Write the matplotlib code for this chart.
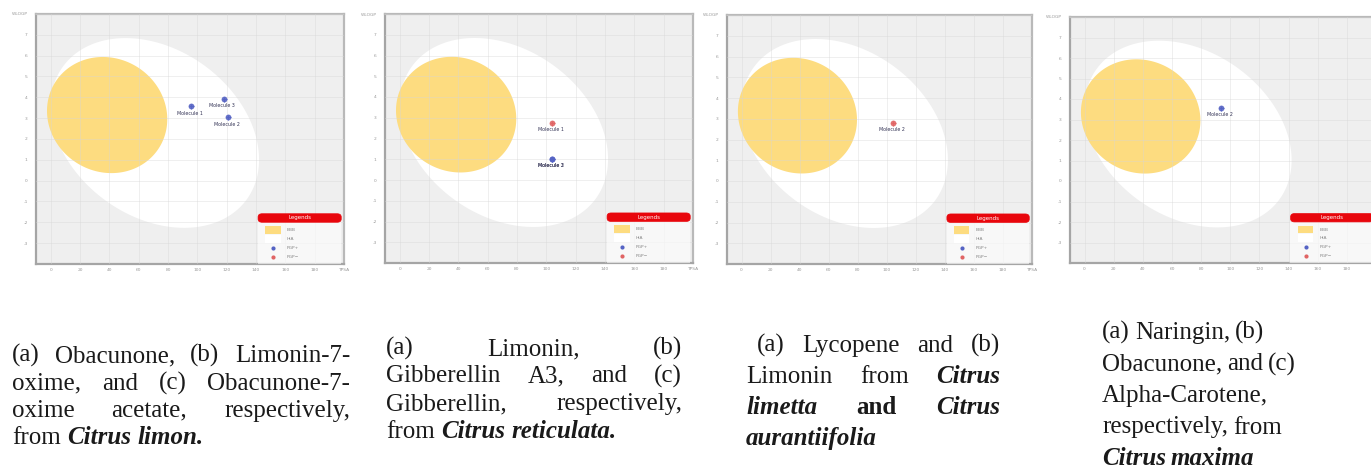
import numpy as np
import matplotlib
matplotlib.use("Agg")
import matplotlib.pyplot as plt
from matplotlib.patches import FancyBboxPatch, Rectangle

W, H = 1371, 472

# ---------------- data ----------------
x_ticks = [0, 20, 40, 60, 80, 100, 120, 140, 160, 180]
y_ticks = [7, 6, 5, 4, 3, 2, 1, 0, -1, -2, -3]
x_label = "TPSA"
y_label = "WLOGP"

# BOILED-Egg regions (SwissADME model): centre, x-half-extent, y-coupling, y-half-axis
hia_center = (71.05, 2.29)
hia_axes = (71.04, -1.28, 4.37)
bbb_center = (38.5, 3.15)
bbb_axes = (41.0, -0.2, 2.78)

p1_names = ["Molecule 1", "Molecule 2", "Molecule 3"]
p1_tpsa = [96.0, 120.8, 117.9]
p1_wlogp = [3.58, 3.05, 3.92]
p1_pgp = [True, True, True]

p2_names = ["Molecule 1", "Molecule 2", "Molecule 3"]
p2_tpsa = [103.8, 103.8, 103.8]
p2_wlogp = [2.77, 1.01, 1.01]
p2_pgp = [False, True, True]

p3_names = ["Molecule 2"]
p3_tpsa = [104.6]
p3_wlogp = [2.81]
p3_pgp = [False]

p4_names = ["Molecule 2"]
p4_tpsa = [93.8]
p4_wlogp = [3.56]
p4_pgp = [True]

legend_labels = ["BBB", "HIA", "PGP+", "PGP\u2212"]

panels = [
    (p1_names, p1_tpsa, p1_wlogp, p1_pgp),
    (p2_names, p2_tpsa, p2_wlogp, p2_pgp),
    (p3_names, p3_tpsa, p3_wlogp, p3_pgp),
    (p4_names, p4_tpsa, p4_wlogp, p4_pgp),
]

# ---------------- style ----------------
BG = "#efefef"
YOLK = "#fddc80"
BLUE = "#5563c4"
RED = "#e06464"
LEG_RED = "#e8060c"
TICK_C = "#9a9a9a"

boxes = [(36, 14, 344, 264), (385, 14, 693, 263), (727, 15, 1032, 264), (1070, 17, 1376, 263)]

fig = plt.figure(figsize=(W / 100, H / 100), dpi=100)
fig.patch.set_facecolor("white")


def egg(ax, c, p, **kw):
    t = np.linspace(0, 2 * np.pi, 400)
    A, C, D = p
    xs = c[0] + A * np.cos(t)
    ys = c[1] + C * np.cos(t) + D * np.sin(t)
    ax.fill(xs, ys, **kw)


for (names, tp, wl, pgp), (l, t, r, b) in zip(panels, boxes):
    ax = fig.add_axes([l / W, 1 - b / H, (r - l) / W, (b - t) / H])
    ax.set_facecolor(BG)
    ax.set_xlim(-10, 200)
    ax.set_ylim(-4, 8)
    egg(ax, hia_center, hia_axes, color="white", zorder=1, lw=0)
    egg(ax, bbb_center, bbb_axes, color=YOLK, zorder=2, lw=0)
    for xv in x_ticks + [200]:
        ax.axvline(xv, color="#d6d6d6", lw=0.6, alpha=0.45, zorder=3)
    for yv in y_ticks + [8]:
        ax.axhline(yv, color="#d6d6d6", lw=0.6, alpha=0.45, zorder=3)
    ax.set_xticks(x_ticks + [200])
    ax.set_xticklabels([str(v) for v in x_ticks] + [x_label])
    ax.set_yticks(y_ticks + [8])
    ax.set_yticklabels([str(v) for v in y_ticks] + [y_label])
    ax.tick_params(axis="y", labelsize=3.2, colors=TICK_C, length=0, pad=6)
    ax.tick_params(axis="x", labelsize=3.2, colors=TICK_C, length=0, pad=3)
    for s in ["top", "right"]:
        ax.spines[s].set_color("#b9b9b9")
        ax.spines[s].set_linewidth(1.6)
    for s in ["left", "bottom"]:
        ax.spines[s].set_color("#a5a5a5")
        ax.spines[s].set_linewidth(1.6)

    for n, x, y, g in zip(names, tp, wl, pgp):
        col = BLUE if g else RED
        ax.plot([x], [y], "o", ms=4.2, color=col, zorder=5, mew=0, alpha=0.9)
        ax.plot([x], [y], "+", ms=3.6, color=col, zorder=6, mew=0.6)
        ax.annotate(n, (x, y), xytext=(-1, -5), textcoords="offset points",
                    ha="center", va="center", fontsize=3.4, color="#333355", zorder=6)

    # legend
    ax.add_patch(Rectangle((0.72, 0.0), 0.27, 0.168, transform=ax.transAxes,
                           facecolor="white", alpha=0.6, lw=0, zorder=6))
    ax.add_patch(FancyBboxPatch((0.725, 0.171), 0.262, 0.026, boxstyle="round,pad=0.004,rounding_size=0.013",
                                transform=ax.transAxes, facecolor=LEG_RED, edgecolor=LEG_RED, lw=0.5, zorder=7))
    ax.text(0.856, 0.184, "Legends", transform=ax.transAxes, ha="center", va="center",
            fontsize=4.0, color="white", zorder=8)
    rows = [0.136, 0.100, 0.064, 0.028]
    ax.add_patch(Rectangle((0.745, rows[0] - 0.016), 0.05, 0.032, transform=ax.transAxes,
                           facecolor=YOLK, lw=0, zorder=7))
    ax.add_patch(Rectangle((0.745, rows[1] - 0.016), 0.05, 0.032, transform=ax.transAxes,
                           facecolor="white", lw=0, zorder=7))
    ax.plot([0.77], [rows[2]], "o", ms=3, color=BLUE, transform=ax.transAxes, zorder=8, mew=0)
    ax.plot([0.77], [rows[3]], "o", ms=3, color=RED, transform=ax.transAxes, zorder=8, mew=0)
    for ry, lab in zip(rows, legend_labels):
        ax.text(0.815, ry, lab, transform=ax.transAxes, ha="left", va="center",
                fontsize=3.2, color="#888888", zorder=8)

# ---------------- captions ----------------
N, BI, B = "normal", "bolditalic", "bold"

cap1 = [
    [("(a)", N), ("Obacunone,", N), ("(b)", N), ("Limonin-7-", N)],
    [("oxime,", N), ("and", N), ("(c)", N), ("Obacunone-7-", N)],
    [("oxime", N), ("acetate,", N), ("respectively,", N)],
    [("from", N), ("Citrus", BI), ("limon.", BI)],
]
cap2 = [
    [("(a)", N), ("Limonin,", N), ("(b)", N)],
    [("Gibberellin", N), ("A3,", N), ("and", N), ("(c)", N)],
    [("Gibberellin,", N), ("respectively,", N)],
    [("from", N), ("Citrus", BI), ("reticulata.", BI)],
]
cap3 = [
    [("(a)", N), ("Lycopene", N), ("and", N), ("(b)", N)],
    [("Limonin", N), ("from", N), ("Citrus", BI)],
    [("limetta", BI), ("and", B), ("Citrus", BI)],
    [("aurantiifolia", BI)],
]
cap4 = [
    [("(a)", N), ("Naringin,", N), ("(b)", N)],
    [("Obacunone,", N), ("and", N), ("(c)", N)],
    [("Alpha-Carotene,", N)],
    [("respectively,", N), ("from", N)],
    [("Citrus", BI), ("maxima", BI)],
]

FS = 18.0
FAM = "Liberation Serif"
renderer = fig.canvas.get_renderer()


def mk(x, y, s, style):
    kw = dict(fontsize=FS, family=FAM, color="#1a1a1a", ha="left", va="baseline")
    if style == BI:
        kw.update(fontweight="bold", fontstyle="italic")
    elif style == B:
        kw.update(fontweight="bold")
    return fig.text(x / W, 1 - y / H, s, **kw)


def width(s, style):
    t = mk(0, 0, s, style)
    w = t.get_window_extent(renderer).width
    t.remove()
    return w


space_w = width("a a", N) - width("aa", N)


def caption(lines, x0, x1, ys, justify=True, indent0=0, gap_scale=1.0):
    for i, (words, y) in enumerate(zip(lines, ys)):
        ws = [width(s, st) for s, st in words]
        last = i == len(lines) - 1
        start = x0 + (indent0 if i == 0 else 0)
        if justify and not last and len(words) > 1:
            gap = (x1 - start - sum(ws)) / (len(words) - 1)
        else:
            gap = space_w * gap_scale
        x = start
        for (s, st), w in zip(words, ws):
            mk(x, y, s, st)
            x += w + gap


caption(cap1, 12, 350, [362, 389.5, 417, 444.5])
caption(cap2, 386, 682, [355, 382.5, 410, 437.5])
caption(cap3, 746, 1000, [352, 383, 414.5, 445.5], indent0=11)
caption(cap4, 1102, 1400, [339, 370.5, 402, 433.5, 465], justify=False, gap_scale=0.8)

fig.savefig("out.png", dpi=100, facecolor="white")
